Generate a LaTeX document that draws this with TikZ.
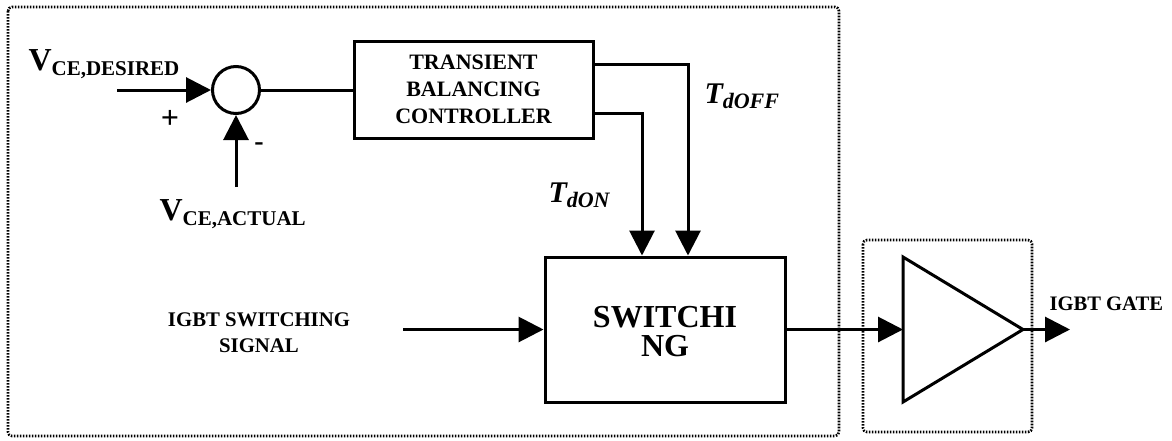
\documentclass[tikz,border=0pt]{standalone}
\usepackage{fontspec}
\setmainfont{Liberation Serif}
\usetikzlibrary{arrows.meta}
\begin{document}
\begin{tikzpicture}[x=0.5pt,y=-0.5pt, line width=1.5pt,
  arr/.style={-{Triangle[length=12.5pt,width=12.5pt]}},
  blk/.style={draw, line width=1.5pt, inner sep=0pt, align=center},
  frame/.style={line width=1.3pt, dash pattern=on 0.8pt off 0.7pt, rounded corners=2pt},
  lbl/.style={inner sep=0pt, font=\bfseries}]
\useasboundingbox (0,0) rectangle (1172,440);

% frames
\draw[frame] (8,7) rectangle (839,436);
\draw[frame] (863,240) rectangle (1032,432);

% blocks
\node[draw, circle, line width=1.5pt, minimum size=23.5pt, inner sep=0pt] (sum) at (236,90) {};
\node[blk, minimum width=119.5pt, minimum height=48.5pt,
  font=\fontsize{11}{13}\selectfont\bfseries] (ctrl) at (473.5,89.5)
  {TRANSIENT\\[0.5pt]BALANCING\\[0.5pt]CONTROLLER};
\node[blk, minimum width=120pt, minimum height=72.5pt,
  font=\fontsize{16}{14.5}\selectfont\bfseries, text depth=0pt] (sw) at (665,329.5)
  {\rule{0pt}{12pt}SWITCHI\\[0pt]NG};

% amplifier triangle
\coordinate (ta) at (903,257);
\coordinate (tb) at (903,402);
\coordinate (tc) at (1023,329.5);
\coordinate (ampin) at (903,329.5);
\draw[line join=miter] (ta) -- (tc) -- (tb) -- cycle;

% labels
\node[lbl, anchor=base west] (vdes) at (27,70)
  {\fontsize{16}{16}\selectfont V\raisebox{-2.5pt}{\fontsize{10.5}{10.5}\selectfont CE,DESIRED}};
\node[lbl, anchor=base west] (vact) at (158,220)
  {\fontsize{16}{16}\selectfont V\raisebox{-2.5pt}{\fontsize{10.5}{10.5}\selectfont CE,ACTUAL}};
\node[lbl] (plus) at (170,119) {\fontsize{16}{16}\selectfont +};
\node[lbl] (minus) at (259,147) {\fontsize{14}{14}\selectfont -};
\node[lbl, anchor=base west] (toff) at (703,103)
  {\fontsize{15}{15}\selectfont\itshape T\raisebox{-2.5pt}{\fontsize{11}{11}\selectfont dOFF}};
\node[lbl, anchor=base west] (ton) at (547,202)
  {\fontsize{15}{15}\selectfont\itshape T\raisebox{-2.5pt}{\fontsize{11}{11}\selectfont dON}};
\node[inner sep=0pt, align=center, font=\fontsize{10.4}{13}\selectfont\bfseries] (sig) at (259,333)
  {IGBT SWITCHING\\SIGNAL};
\node[lbl, anchor=base west] (gatel) at (1048,310)
  {\fontsize{10.3}{12}\selectfont IGBT GATE};

% connector end points
\coordinate (vin) at (117,90);
\coordinate (fb) at (236,187);
\coordinate (offc) at (688,64);
\coordinate (onc) at (642,113);
\coordinate (sin) at (403,329.5);
\coordinate (gate) at (1070,329.5);

% connectors
\draw[arr] (vin) -- (sum.west);
\draw[arr] (fb) -- (sum.south);
\draw (sum.east) -- (ctrl.west |- sum.east);
\draw[arr] (ctrl.east |- offc) -| (sw.north -| offc);
\draw[arr] (ctrl.east |- onc) -| (sw.north -| onc);
\draw[arr] (sin) -- (sw.west);
\draw[arr] (sw.east) -- (ampin);
\draw[arr] (tc) -- (gate);
\end{tikzpicture}
\end{document}
